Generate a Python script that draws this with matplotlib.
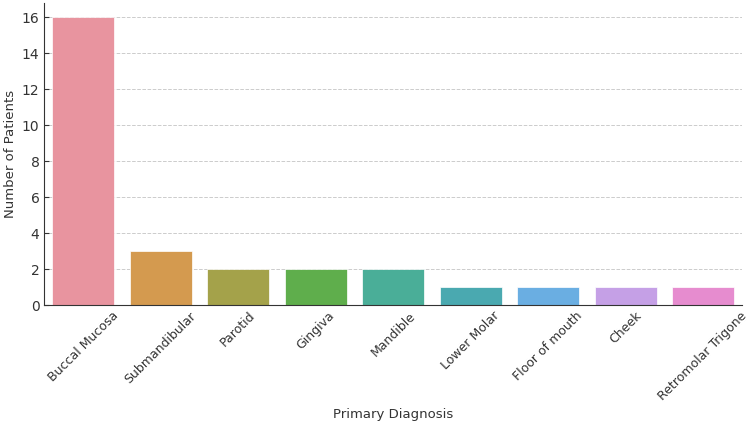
import matplotlib
matplotlib.use("Agg")
import matplotlib.pyplot as plt
import seaborn as sns

categories = ["Buccal Mucosa", "Submandibular", "Parotid", "Gingiva", "Mandible",
              "Lower Molar", "Floor of mouth", "Cheek", "Retromolar Trigone"]
counts = [16, 3, 2, 2, 2, 1, 1, 1, 1]
colors = ["#e8949f", "#d49a4f", "#a4a24a", "#5fae4c", "#4aae98",
          "#4aa9b0", "#6aaee2", "#c5a0e6", "#e68ccf"]

fig = plt.figure(figsize=(7.5, 4.29), dpi=100)
ax = fig.add_axes([0.059, 0.289, 0.930, 0.704])
sns.barplot(x=categories, y=counts, hue=categories, palette=colors, legend=False,
            ax=ax, saturation=1, edgecolor="white", linewidth=0.5)
ax.set_xlabel("Primary Diagnosis", fontsize=9.5, color="#333333", labelpad=4)
ax.set_ylabel("Number of Patients", fontsize=9.5, color="#333333", labelpad=3)
ax.set_xticks(range(len(categories)))
ax.set_xticklabels(categories, rotation=45, ha="center", fontsize=9, color="#333333")
ax.tick_params(axis="y", labelsize=10, colors="#333333", direction="in")
ax.tick_params(axis="x", direction="in", colors="#333333", pad=3)
ax.yaxis.grid(True, linestyle="--", color="#cccccc", linewidth=0.7)
ax.set_axisbelow(True)
for s in ["top", "right"]:
    ax.spines[s].set_visible(False)
ax.spines["left"].set_color("#333333")
ax.spines["bottom"].set_color("#333333")
ax.set_xlim(-0.5, 8.5)
ax.set_ylim(0, 16.8)
fig.savefig("out.png", dpi=100)
